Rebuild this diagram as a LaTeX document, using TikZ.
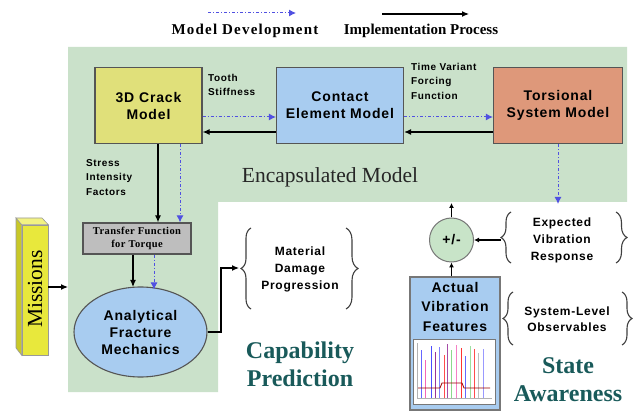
\documentclass[tikz,border=0pt]{standalone}
\usepackage{fontspec}
\setmainfont{Liberation Serif}
\newfontfamily\ars{Liberation Sans}[LetterSpace=6]
\usetikzlibrary{arrows.meta,decorations.pathreplacing,shapes.geometric}
\definecolor{bggreen}{RGB}{202,225,202}
\definecolor{crackyellow}{RGB}{224,224,122}
\definecolor{lblue}{RGB}{168,204,240}
\definecolor{salmon}{RGB}{222,152,122}
\definecolor{tgray}{RGB}{190,190,190}
\definecolor{bord}{RGB}{85,85,85}
\definecolor{devblue}{RGB}{80,80,225}
\definecolor{teal}{RGB}{25,90,90}
\definecolor{myel}{RGB}{232,232,60}
\definecolor{myelside}{RGB}{200,200,40}
\definecolor{myeltop}{RGB}{242,242,130}
\definecolor{circgreen}{RGB}{200,228,200}
\begin{document}
\begin{tikzpicture}[x=1pt,y=-1pt,
  box/.style={draw=bord,line width=1.2pt,align=center,inner sep=0pt,
     font=\ars\bfseries\fontsize{14}{17}\selectfont},
  impl/.style={draw=black,line width=1.2pt,-{Latex[length=7pt,width=6pt]}},
  dev/.style={draw=devblue,line width=1pt,dash pattern=on 3pt off 2pt on 1pt off 2pt,
     -{Latex[length=7pt,width=7pt]}},
  lbl/.style={align=left,inner sep=0pt,font=\ars\bfseries\fontsize{10}{14.5}\selectfont},
  btxt/.style={align=center,inner sep=0pt,font=\ars\bfseries\fontsize{12}{17}\selectfont},
  bigt/.style={align=center,inner sep=0pt,text=teal,font=\bfseries\fontsize{24}{28}\selectfont},
  bracestyle/.style={draw=black!75,line width=1.1pt,decorate},
]
\useasboundingbox (0,0) rectangle (634,411);
\fill[white] (0,0) rectangle (634,411);

% legend
\coordinate (l1a) at (208,13); \coordinate (l1b) at (296,13);
\coordinate (l2a) at (382,14); \coordinate (l2b) at (469,14);
\draw[dev] (l1a) -- (l1b);
\draw[impl] (l2a) -- (l2b);
\node[inner sep=0pt,font=\addfontfeatures{LetterSpace=8}\bfseries\fontsize{15}{18}\selectfont] (leg1) at (245,31) {Model Development};
\node[inner sep=0pt,font=\bfseries\fontsize{15}{18}\selectfont] (leg2) at (421,31) {Implementation Process};

% green background
\fill[bggreen] (68,47) -- (627,47) -- (627,202) -- (218,202) -- (218,392) -- (68,392) -- cycle;

% top boxes
\node[box,fill=crackyellow,minimum width=107pt,minimum height=76pt] (crack) at (148.5,105.5) {3D Crack\\Model};
\node[box,fill=lblue,minimum width=127pt,minimum height=76pt] (contact) at (340,105.5) {Contact\\Element Model};
\node[box,fill=salmon,minimum width=129pt,minimum height=76pt] (tors) at (558,105.5) {Torsional\\System Model};

\draw[dev] (crack.east |- 0,117) -- (contact.west |- 0,117);
\draw[dev] (contact.east |- 0,117) -- (tors.west |- 0,117);
\draw[impl] (contact.west |- 0,132) -- (crack.east |- 0,132);
\draw[impl] (tors.west |- 0,132) -- (contact.east |- 0,132);

\node[lbl,anchor=north west] (tooth) at (208,74) {Tooth\\Stiffness};
\node[lbl,anchor=north west] (tvf) at (411,63) {Time Variant\\Forcing\\Function};
\node[lbl,anchor=north west] (sif) at (86,159) {Stress\\Intensity\\Factors};
\node[inner sep=0pt,text=black!85,font=\fontsize{21.5}{24}\selectfont] (enc) at (330,177) {Encapsulated Model};

% transfer function
\node[draw=bord,line width=1.2pt,fill=tgray,minimum width=108pt,minimum height=31pt,inner sep=0pt,align=center,
  font=\addfontfeatures{LetterSpace=4}\bfseries\fontsize{10.5}{13.5}\selectfont] (tf) at (137,238.5) {Transfer Function\\for Torque};
\draw[impl] (crack.south -| 158,0) -- (tf.north -| 158,0);
\draw[dev] (crack.south -| 180,0) -- (tf.north -| 180,0);

% ellipse
\node[ellipse,draw=bord,line width=1.1pt,fill=lblue,minimum width=133pt,minimum height=90pt,inner sep=0pt,align=center,
  font=\ars\bfseries\fontsize{14}{17}\selectfont] (afm) at (140.5,332) {Analytical\\Fracture\\Mechanics};
\coordinate (afmtop1) at (133,287);
\coordinate (afmtop2) at (154,289.5);
\draw[impl] (tf.south -| afmtop1) -- (afmtop1);
\draw[dev] (tf.south -| afmtop2) -- (afmtop2);

% missions
\node[draw=bord!60,line width=0.6pt,fill=myel,minimum width=26pt,minimum height=130pt,inner sep=0pt] (miss) at (35,290) {};
\fill[myelside,draw=bord!60,line width=0.6pt] (miss.north west) -- (16,218) -- (16,348) -- (miss.south west) -- cycle;
\fill[myeltop,draw=bord!60,line width=0.6pt] (miss.north west) -- (16,218) -- (42,218) -- (miss.north east) -- cycle;
\node[rotate=90,inner sep=0pt,font=\fontsize{21.5}{24}\selectfont] (misst) at (35,289) {Missions};
\coordinate (greenedge) at (68,287);
\draw[impl] (miss.east |- greenedge) -- (greenedge);

% material damage
\coordinate (mdtip) at (239,268);
\draw[impl] (afm.east) -- (221,332) -- (221,268) -- (mdtip);
\draw[bracestyle,decoration={brace,amplitude=10pt}] (251,309) -- (251,228);
\draw[bracestyle,decoration={brace,amplitude=12pt}] (346,228) -- (346,309);
\node[btxt] (mdp) at (300,269) {Material\\Damage\\Progression};
\node[bigt] (cap) at (300,364) {Capability\\Prediction};

% state awareness side
\node[circle,draw=bord!80,line width=1pt,fill=circgreen,minimum size=44pt,inner sep=0pt,
  font=\ars\bfseries\fontsize{14}{17}\selectfont] (pm) at (451.5,240) {+/-};
\coordinate (tordown) at (558,204);
\draw[dev] (tors.south -| tordown) -- (tordown);
\coordinate (pmup) at (451.5,203);
\draw[black,line width=1.2pt,-{Latex[length=5pt,width=5pt]}] (pm.north) -- (pmup);
\coordinate (evtip) at (501,240);
\draw[black,line width=1.2pt,-{Latex[length=5pt,width=5pt]}] (evtip) -- (pm.east);
\draw[bracestyle,decoration={brace,amplitude=10pt}] (511,263) -- (511,212);
\draw[bracestyle,decoration={brace,amplitude=11pt}] (616,212) -- (616,263);
\node[btxt] (evr) at (562,240) {Expected\\Vibration\\Response};

\node[draw=bord!80,line width=1.2pt,fill=lblue,minimum width=90pt,minimum height=133pt,inner sep=0pt] (avf) at (455,343.5) {};
\node[inner sep=0pt,align=center,font=\ars\bfseries\fontsize{14}{19.5}\selectfont,anchor=north] (avft) at (455,282) {Actual\\Vibration\\Features};
\draw[black,line width=1.2pt,-{Latex[length=5pt,width=5pt]}] (avf.north -| pm) -- (pm.south);
% plot
\node[draw=bord!80,line width=1pt,fill=white,minimum width=82pt,minimum height=65pt,inner sep=0pt] (plot) at (454,371.5) {};
\begin{scope}[line width=0.8pt]
\draw[gray!60,line width=0.5pt] (417,343) -- (417,398) -- (492,398);
\draw[blue!60] (421,398) -- (421,350);
\draw[magenta!60] (425,398) -- (425,360);
\draw[blue!70] (431,398) -- (431,346);
\draw[violet!80] (435,398) -- (435,352);
\draw[blue!50] (439,398) -- (439,347);
\draw[red!70] (444,398) -- (444,355);
\draw[violet!70] (447,398) -- (447,344);
\draw[green!50!gray!60] (451,398) -- (451,350);
\draw[magenta!50] (456,398) -- (456,345);
\draw[red!80] (461,398) -- (461,348);
\draw[blue!60] (465,398) -- (465,356);
\draw[green!50!gray!50] (470,398) -- (470,346);
\draw[red!70] (474,398) -- (474,349);
\draw[gray!50] (478,398) -- (478,353);
\draw[blue!40] (483,398) -- (483,349);
\draw[red!60!black] (418,388) -- (440,388) -- (442,383) -- (462,383) -- (464,388) -- (490,388);
\end{scope}

\draw[bracestyle,decoration={brace,amplitude=10pt}] (513,345) -- (513,292);
\draw[bracestyle,decoration={brace,amplitude=10pt}] (622,292) -- (622,345);
\node[btxt,font=\ars\bfseries\fontsize{12}{16}\selectfont] (slo) at (567,319) {System-Level\\Observables};
\node[bigt] (sa) at (568,380) {State\\Awareness};
\end{tikzpicture}
\end{document}
